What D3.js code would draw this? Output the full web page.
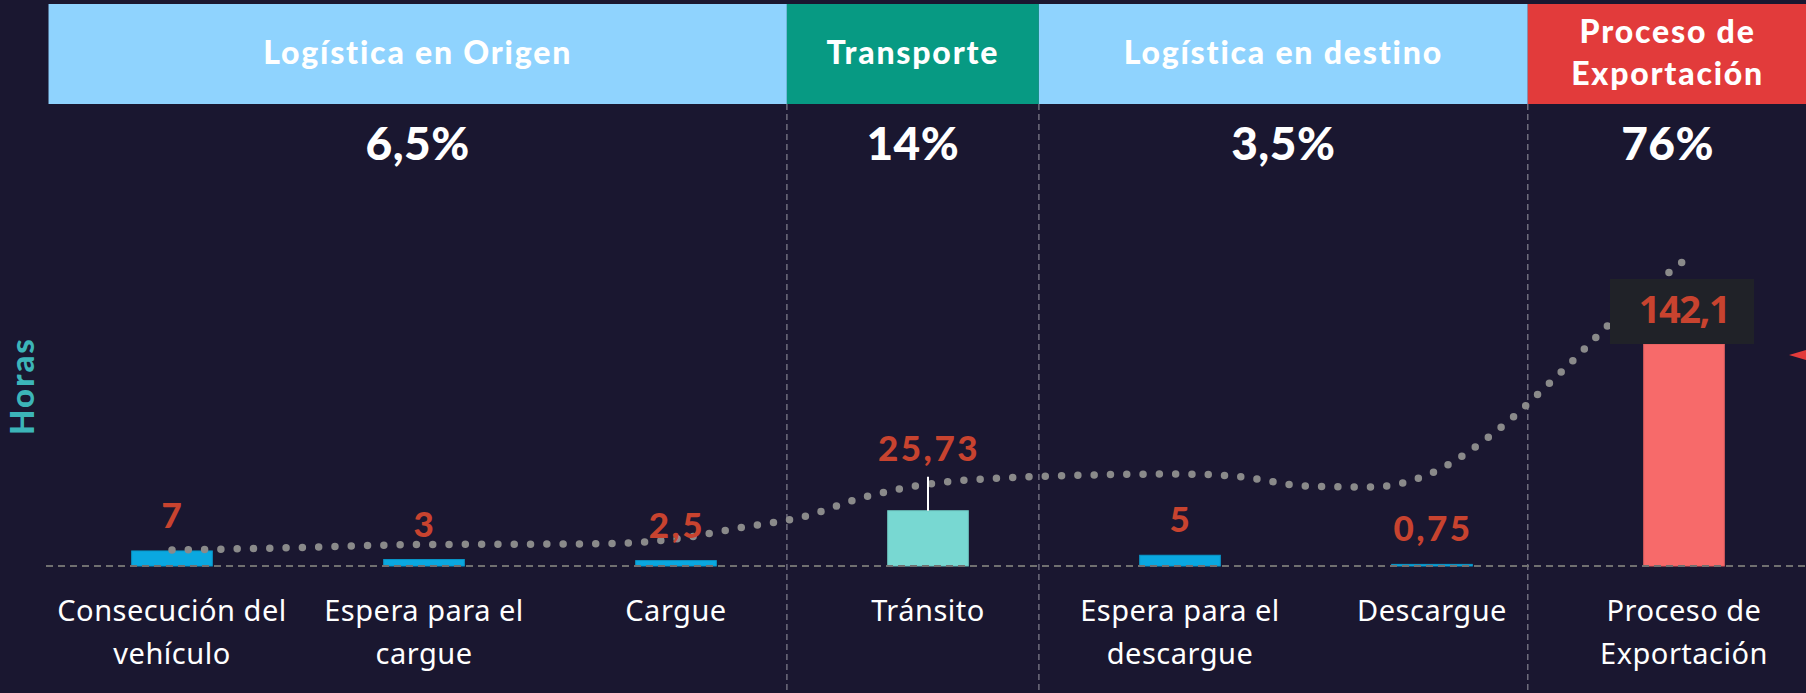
<html lang="es">

<head>
  <meta charset="utf-8">
  <title>Tiempos del proceso logístico</title>
  <script type="text/javascript" src="https://d3js.org/d3.v7.min.js"></script>
  <style>
    body { margin: 0; background: #1a1730; }
    svg { display: block; }
  </style>
</head>

<body>
  <svg width="1806" height="693"></svg>
  <script>
    // --- data ---
    const categories = ["Consecución del vehículo", "Espera para el cargue", "Cargue", "Tránsito",
      "Espera para el descargue", "Descargue", "Proceso de Exportación"];
    const tickLines = [["Consecución del", "vehículo"], ["Espera para el", "cargue"], ["Cargue"], ["Tránsito"],
      ["Espera para el", "descargue"], ["Descargue"], ["Proceso de", "Exportación"]];
    const hours = [7, 3, 2.5, 25.73, 5, 0.75, 142.1];
    const stage = ["origen", "origen", "origen", "transporte", "destino", "destino", "exportacion"];

    const groups = ["Logística en Origen", "Transporte", "Logística en destino", "Proceso de Exportación"];
    const groupHeaderLines = [["Logística en Origen"], ["Transporte"], ["Logística en destino"], ["Proceso de", "Exportación"]];
    const groupShare = [6.5, 14, 3.5, 76];

    // dotted trend line (category index, hours)
    const trendIdx = [0, 0.5, 1, 1.5, 1.75, 2, 2.25, 2.5, 2.75, 3, 3.5, 4, 4.25, 4.5, 4.75, 5, 5.25, 5.5, 5.75, 6];
    const trendHours = [7.4, 8.6, 10.0, 10.2, 10.5, 12.6, 17.7, 22.8, 32.1, 38.1, 41.9, 42.8, 41.4, 37.2, 36.7, 43.3, 62.3, 88.8, 117.7, 142.1];

    // --- layout ---
    const W = 1806, H = 693;
    const baseY = 566, clipTopY = 344;
    const groupBounds = [-0.49, 2.44, 3.44, 5.38, 6.49]; // header edges, in category index units
    const colors = {
      origen: "#0aa8e0", transporte: "#78d8d2", destino: "#0aa8e0", exportacion: "#f76a6a"
    };
    const headerColors = ["#8fd3fe", "#079a83", "#8fd3fe", "#e23b3b"];
    const valueRed = "#c8432f";

    const svg = d3.select("svg");
    const locale = d3.formatLocale({ decimal: ",", thousands: ".", grouping: [3], currency: ["", ""] });
    const fmt = locale.format("~g");

    const x = d3.scalePoint().domain(categories).range([172, 1684]);
    const xIdx = d3.scaleLinear().domain([0, categories.length - 1]).range([172, 1684]);
    const barW = x.step() * 0.32;
    // the tallest bar is cut at the top of the plot
    const y = d3.scaleLinear().domain([0, 103.3]).range([baseY, clipTopY]).clamp(true);
    const yTrend = y.copy().clamp(false);

    // headers
    const hdr = svg.append("g");
    hdr.selectAll("rect")
      .data(groups)
      .enter()
      .append("rect")
      .attr("x", (d, i) => xIdx(groupBounds[i]))
      .attr("width", (d, i) => xIdx(groupBounds[i + 1]) - xIdx(groupBounds[i]))
      .attr("y", 4)
      .attr("height", 100)
      .attr("fill", (d, i) => headerColors[i]);

    hdr.selectAll("text")
      .data(groups)
      .enter()
      .append("text")
      .attr("x", (d, i) => (xIdx(groupBounds[i]) + xIdx(groupBounds[i + 1])) / 2)
      .attr("y", (d, i) => groupHeaderLines[i].length > 1 ? 43 : 64)
      .attr("text-anchor", "middle")
      .attr("fill", "#fff")
      .attr("font-family", "Lato, 'Noto Sans', sans-serif")
      .attr("font-weight", 900)
      .attr("font-size", 32)
      .attr("letter-spacing", 1.8)
      .each(function (d, i) {
        groupHeaderLines[i].forEach((line, j) => {
          d3.select(this).append("tspan")
            .attr("x", d3.select(this).attr("x"))
            .attr("dy", j === 0 ? 0 : 42)
            .text(line);
        });
      });

    // shares
    svg.append("g").selectAll("text")
      .data(groupShare)
      .enter()
      .append("text")
      .attr("x", (d, i) => (xIdx(groupBounds[i]) + xIdx(groupBounds[i + 1])) / 2)
      .attr("y", 160)
      .attr("text-anchor", "middle")
      .attr("fill", "#fff")
      .attr("font-family", "Lato, sans-serif")
      .attr("font-weight", 900)
      .attr("font-size", 46)
      .attr("letter-spacing", 0.5)
      .text(d => fmt(d) + "%");

    // vertical dividers
    svg.append("g").selectAll("line")
      .data(groupBounds.slice(1, -1))
      .enter()
      .append("line")
      .attr("x1", d => xIdx(d)).attr("x2", d => xIdx(d))
      .attr("y1", 104).attr("y2", H)
      .attr("stroke", "#6e6c7c")
      .attr("stroke-width", 1.5)
      .attr("stroke-dasharray", "6 4");

    // bars
    svg.append("g").selectAll("rect")
      .data(hours)
      .enter()
      .append("rect")
      .attr("x", (d, i) => x(categories[i]) - barW / 2)
      .attr("width", barW)
      .attr("y", d => y(d))
      .attr("height", d => baseY - y(d))
      .attr("fill", (d, i) => colors[stage[i]])
      .attr("stroke", (d, i) => d3.color(colors[stage[i]]).darker(0.3))
      .attr("stroke-width", 1);

    // baseline
    svg.append("line")
      .attr("x1", 46).attr("x2", W)
      .attr("y1", baseY).attr("y2", baseY)
      .attr("stroke", "#707070")
      .attr("stroke-width", 2)
      .attr("stroke-dasharray", "7 5");

    // trend line (dotted)
    const trend = d3.line()
      .x(d => xIdx(d[0]))
      .y(d => yTrend(d[1]))
      .curve(d3.curveMonotoneX);

    svg.append("path")
      .datum(trendIdx.map((t, i) => [t, trendHours[i]]))
      .attr("d", trend)
      .attr("fill", "none")
      .attr("stroke", "#8a8a8a")
      .attr("stroke-width", 7.5)
      .attr("stroke-linecap", "round")
      .attr("stroke-dasharray", "0 16.3");

    // value labels
    const lifted = "Tránsito";
    const clipped = hours.map(d => d > y.domain()[1]);
    const lbl = svg.append("g");

    hours.forEach((d, i) => {
      const cx = x(categories[i]);
      if (clipped[i]) {
        lbl.append("rect")
          .attr("x", cx - 74).attr("width", 144)
          .attr("y", y(d) - 65).attr("height", 65)
          .attr("fill", "#202228");
        lbl.append("text")
          .attr("x", cx).attr("y", y(d) - 21)
          .attr("text-anchor", "middle")
          .attr("fill", valueRed)
          .attr("font-family", "'Noto Sans', sans-serif")
          .attr("font-weight", 700)
          .attr("font-size", 38)
          .attr("letter-spacing", -1.5)
          .text(fmt(d));
        return;
      }
      const lift = categories[i] === lifted ? 34 : 0;
      if (lift) {
        lbl.append("line")
          .attr("x1", cx).attr("x2", cx)
          .attr("y1", y(d) - lift).attr("y2", y(d))
          .attr("stroke", "#fff")
          .attr("stroke-width", 2);
      }
      lbl.append("text")
        .attr("x", cx + 1).attr("y", y(d) - 23 - lift + (lift ? 7 : 0))
        .attr("text-anchor", "middle")
        .attr("fill", valueRed)
        .attr("font-family", "Lato, sans-serif")
        .attr("font-weight", 900)
        .attr("font-size", 35)
        .attr("letter-spacing", 2.5)
        .text(fmt(d));
    });

    // category labels
    svg.append("g").selectAll("text")
      .data(categories)
      .enter()
      .append("text")
      .attr("x", d => x(d))
      .attr("y", 621)
      .attr("text-anchor", "middle")
      .attr("fill", "#fff")
      .attr("font-family", "'Noto Sans', sans-serif")
      .attr("font-size", 29)
      .attr("letter-spacing", 0.5)
      .each(function (d, i) {
        tickLines[i].forEach((line, j) => {
          d3.select(this).append("tspan")
            .attr("x", x(d))
            .attr("dy", j === 0 ? 0 : 43)
            .text(line);
        });
      });

    // axis title
    svg.append("text")
      .attr("transform", "translate(34,386) rotate(-90)")
      .attr("text-anchor", "middle")
      .attr("fill", "#3cb5b8")
      .attr("font-family", "Lato, sans-serif")
      .attr("font-weight", 900)
      .attr("font-size", 33)
      .attr("letter-spacing", 2)
      .text("Horas");

    // small red pointer at the right edge
    svg.append("path")
      .attr("d", "M1789,355L1806,350L1806,360Z")
      .attr("fill", "#e23b3b");
  </script>
</body>

</html>
